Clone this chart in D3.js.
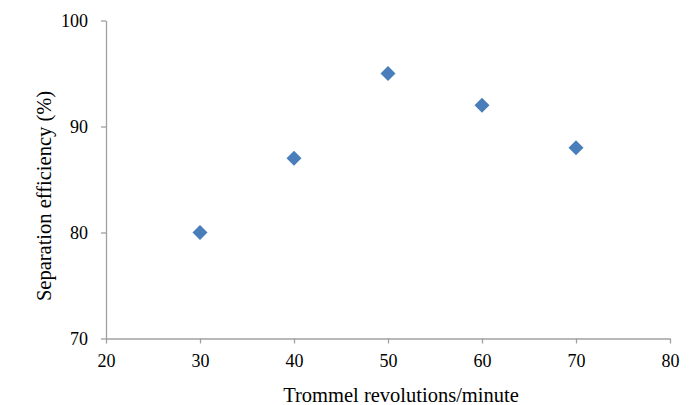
<!DOCTYPE html>
<html><head><meta charset="utf-8">
<script src="https://cdn.jsdelivr.net/npm/d3@7"></script>
<style>
body{margin:0;background:#fff;}
text{font-family:"Liberation Serif","Times New Roman",serif;fill:#000;}
</style></head>
<body><svg id="c" width="691" height="405"></svg>
<script>
const rpm = [30, 40, 50, 60, 70];
const efficiency = [80, 87, 95, 92, 88];
const xTicks = [20, 30, 40, 50, 60, 70, 80];
const yTicks = [70, 80, 90, 100];
const xTitle = "Trommel revolutions/minute";
const yTitle = "Separation efficiency (%)";

const svg = d3.select("#c");
const x = d3.scaleLinear().domain([20, 80]).range([106, 670]);
const y = d3.scaleLinear().domain([70, 100]).range([338.5, 20.5]);
const axisColor = "#a0a0a0";

const gx = svg.append("g").attr("transform", "translate(0,338.5)")
  .call(d3.axisBottom(x).tickValues(xTicks).tickSize(5).tickPadding(11).tickSizeOuter(0));
const gy = svg.append("g").attr("transform", "translate(106,0)")
  .call(d3.axisLeft(y).tickValues(yTicks).tickSize(5).tickPadding(13).tickSizeOuter(0));
[gx, gy].forEach(g => {
  g.selectAll("path,line").attr("stroke", axisColor).attr("stroke-width", 1.3);
  g.selectAll("text").attr("font-size", 18).attr("font-family", "Liberation Serif").attr("fill", "#000");
});

svg.append("text").attr("x", 401).attr("y", 402).attr("text-anchor", "middle")
  .attr("font-size", 20.5).text(xTitle);
svg.append("text").attr("transform", "translate(51,196) rotate(-90)").attr("text-anchor", "middle")
  .attr("font-size", 20.5).text(yTitle);

const r = 7.5;
svg.append("g").selectAll("path").data(rpm.map((d, i) => [d, efficiency[i]])).join("path")
  .attr("d", d => {
    const cx = x(d[0]), cy = y(d[1]);
    return `M${cx},${cy - r}L${cx + r},${cy}L${cx},${cy + r}L${cx - r},${cy}Z`;
  })
  .attr("fill", "#4a7ebb");
</script></body></html>
